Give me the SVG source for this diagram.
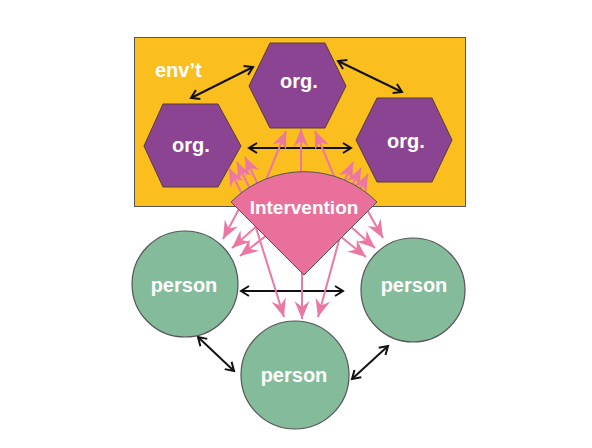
<svg xmlns="http://www.w3.org/2000/svg" width="592" height="448" viewBox="0 0 592 448">
<defs>
<marker id="bk" markerUnits="userSpaceOnUse" markerWidth="12" markerHeight="12" refX="10" refY="6" orient="auto-start-reverse" overflow="visible">
<path d="M2,1 L10,6 L2,11" fill="none" stroke="#111" stroke-width="2"/>
</marker>
<marker id="pk" markerUnits="userSpaceOnUse" markerWidth="18" markerHeight="15" refX="18" refY="7.5" orient="auto" overflow="visible">
<path d="M0,0 L18,7.5 L0,15 L6,7.5 z" fill="#EC77A3"/>
</marker>
<style>
.lbl{font-family:"Liberation Sans",Arial,sans-serif;font-weight:bold;fill:#fff;text-anchor:middle}
.hex{fill:#8A4492;stroke:#5a3a3a;stroke-width:1}
.per{fill:#84BB9B;stroke:#555;stroke-width:1.2}
.bl{stroke:#111;stroke-width:2;fill:none;marker-start:url(#bk);marker-end:url(#bk)}
.pl{stroke:#EC77A3;stroke-width:2;fill:none;marker-end:url(#pk)}
</style>
</defs>
<rect width="592" height="448" fill="#fff"/>
<g id="env">
<rect x="134.5" y="37.5" width="331" height="169" fill="#FABF1F" stroke="#555" stroke-width="1"/>
<text class="lbl" x="155" y="77" style="text-anchor:start" font-size="20">env’t</text>
</g>
<g id="org-top">
<polygon class="hex" points="249,86 270,43 325,43 346,86 325,128 270,128"/>
<text class="lbl" x="299" y="88" font-size="20">org.</text>
</g>
<g id="org-left">
<polygon class="hex" points="144,146 163,104 218,104 241,146 218,187 163,187"/>
<text class="lbl" x="191" y="152" font-size="20">org.</text>
</g>
<g id="org-right">
<polygon class="hex" points="356,140 377,98 432,98 452,140 432,182 377,182"/>
<text class="lbl" x="406" y="148" font-size="20">org.</text>
</g>
<g id="connectors">
<line class="bl" x1="191" y1="98" x2="253" y2="67"/>
<line class="bl" x1="338" y1="61" x2="402" y2="92"/>
<line class="bl" x1="249" y1="148" x2="351" y2="148"/>
<line class="bl" x1="241" y1="291" x2="343" y2="291"/>
<line class="bl" x1="198" y1="337" x2="234" y2="371"/>
<line class="bl" x1="352" y1="379" x2="388" y2="346"/>
<line class="pl" x1="244" y1="198" x2="229" y2="168"/>
<line class="pl" x1="252" y1="193" x2="237" y2="162"/>
<line class="pl" x1="260" y1="189" x2="245" y2="157"/>
<line class="pl" x1="262" y1="190" x2="286" y2="131"/>
<line class="pl" x1="301" y1="185" x2="301" y2="129"/>
<line class="pl" x1="340" y1="190" x2="315" y2="131"/>
<line class="pl" x1="339" y1="193" x2="353" y2="162"/>
<line class="pl" x1="347" y1="196" x2="361" y2="168"/>
<line class="pl" x1="355" y1="199" x2="368" y2="174"/>
<line class="pl" x1="240" y1="207" x2="223" y2="239"/>
<line class="pl" x1="258" y1="225" x2="232" y2="248"/>
<line class="pl" x1="267" y1="235" x2="240" y2="256"/>
<line class="pl" x1="366" y1="208" x2="383" y2="238"/>
<line class="pl" x1="350" y1="226" x2="375" y2="248"/>
<line class="pl" x1="340" y1="236" x2="366" y2="257"/>
<line class="pl" x1="252" y1="215" x2="284" y2="317"/>
<line class="pl" x1="302" y1="268" x2="302" y2="319"/>
<line class="pl" x1="346" y1="215" x2="318" y2="317"/>
</g>
<g id="intervention">
<path d="M304,275 L231,202 A103,103 0 0 1 377,202 Z" fill="#E8709B" stroke="#555" stroke-width="1"/>
<text class="lbl" x="304" y="214" font-size="19">Intervention</text>
</g>
<g id="person-left">
<circle class="per" cx="185" cy="284" r="53"/>
<text class="lbl" x="184" y="292" font-size="20">person</text>
</g>
<g id="person-right">
<circle class="per" cx="413" cy="290" r="52"/>
<text class="lbl" x="414" y="292" font-size="20">person</text>
</g>
<g id="person-bottom">
<circle class="per" cx="295" cy="375" r="54"/>
<text class="lbl" x="294" y="382" font-size="20">person</text>
</g>
</svg>
